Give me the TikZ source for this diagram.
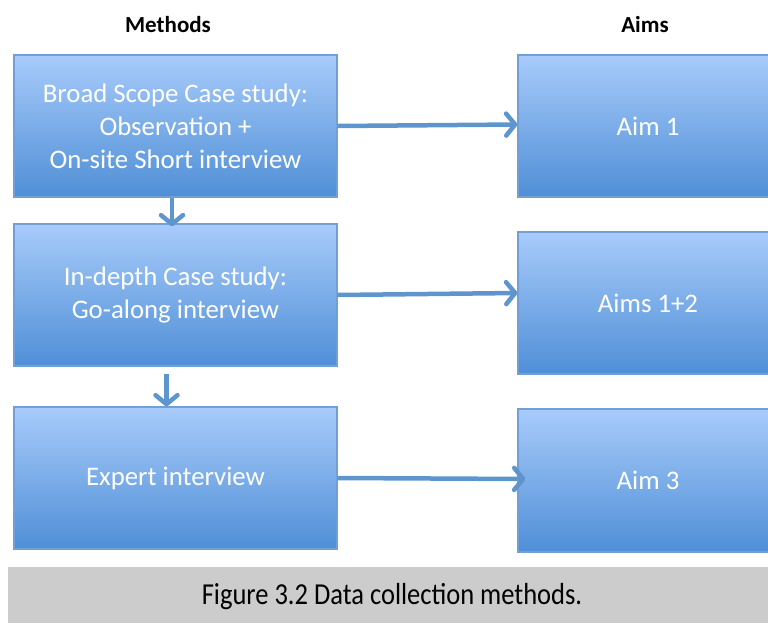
\documentclass[tikz,border=0pt]{standalone}
\usepackage{fontspec}
\setmainfont{Carlito}
\usetikzlibrary{arrows.meta}
\definecolor{boxtop}{HTML}{A8CBFB}
\definecolor{boxbot}{HTML}{4F8FD6}
\definecolor{boxline}{HTML}{72A0D4}
\definecolor{arr}{HTML}{5D95CC}
\definecolor{capgray}{HTML}{CCCCCC}
\begin{document}
\begin{tikzpicture}[x=1pt,y=-1pt,
 blk/.style={rectangle, draw=boxline, line width=1.2pt, top color=boxtop, bottom color=boxbot, text=white, inner sep=0pt, align=center, font=\fontsize{26.8}{33}\selectfont},
 mbox/.style={blk, minimum width=323pt, minimum height=142pt},
 abox/.style={blk, minimum width=260pt, minimum height=142pt},
 conn/.style={draw=arr, line width=4.5pt, -{Straight Barb[length=9pt,width=22pt,line cap=round,line join=round]}},
 hdr/.style={font=\fontsize{23}{27}\selectfont\bfseries, inner sep=0pt}]
\useasboundingbox (0,0) rectangle (768,623);
\clip (0,0) rectangle (768,623);

\node[hdr] (hm) at (168,25) {Methods};
\node[hdr] (ha) at (645,25) {Aims};

\node[mbox] (b1) at (175.5,126) {Broad Scope Case study:\\Observation +\\On-site Short interview};
\node[mbox] (b2) at (175.5,295) {In-depth Case study:\\Go-along interview};
\node[mbox] (b3) at (175.5,478) {Expert interview};

\node[abox] (a1) at (648,126) {Aim 1};
\node[abox] (a2) at (648,303) {Aims 1+2};
\node[abox, minimum height=143pt] (a3) at (648,480.5) {Aim 3};

\draw[conn] (b1.east) -- ([yshift=1.5pt]a1.west);
\draw[conn] (b2.east) -- ([yshift=10pt]a2.west);
\draw[conn] (b3.east) -- ([xshift=8pt,yshift=1.5pt]a3.west);

\draw[conn] ([xshift=-3.5pt]b1.south) -- ([xshift=-3.5pt,yshift=-3pt]b2.north);
\draw[conn] ([xshift=-9pt,yshift=-7pt]b2.south) -- ([xshift=-9pt]b3.north);

\fill[capgray] (8,567) rectangle (768,623);
\node[inner sep=0pt, font=\fontsize{26.5}{30}\selectfont] (cap) at (392,597) {\scalebox{1}[1.15]{Figure 3.2 Data collection methods.}};
\end{tikzpicture}
\end{document}
